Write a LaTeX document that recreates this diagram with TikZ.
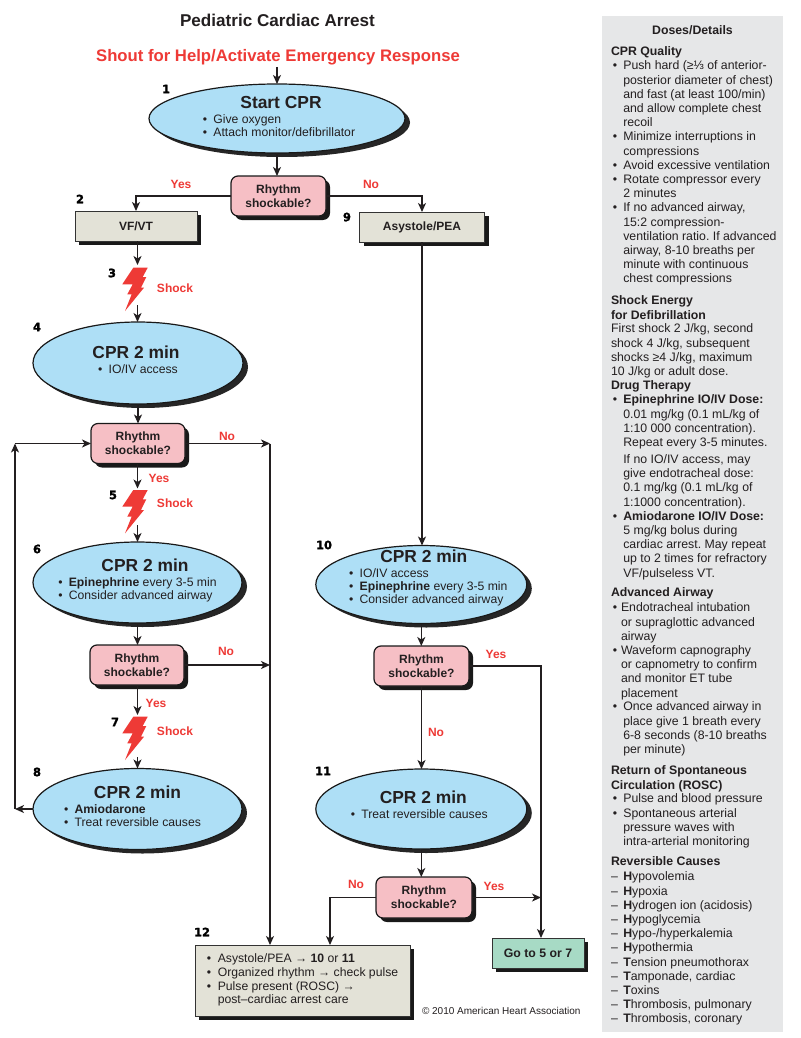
\documentclass[tikz,border=0pt]{standalone}
\usepackage{fontspec}
\setmainfont{Liberation Sans}
\newfontfamily\numfont[FakeBold=1.5]{DejaVu Sans Bold}
\usetikzlibrary{shapes.geometric,shadows,arrows.meta}
\definecolor{inkc}{HTML}{231F20}
\definecolor{redc}{HTML}{EE3A36}
\definecolor{bluec}{HTML}{AEDFF6}
\definecolor{pinkc}{HTML}{F6BFC5}
\definecolor{grayc}{HTML}{E3E2D7}
\definecolor{greenc}{HTML}{A7DAC5}
\definecolor{panelc}{HTML}{E6E7E8}
\newcommand\ovaltext[5]{\makebox[0pt]{\raisebox{#1pt}[0pt][0pt]{\begin{tabular}{@{}c@{}}%
{\fontsize{17.4}{18}\selectfont\bfseries\hspace*{#2pt}#3}\\[1.7pt]%
\hspace*{#4pt}\begin{tabular}[t]{@{}l@{}}#5\end{tabular}\end{tabular}}}}
\newcommand\ob{\makebox[10.5pt][l]{•}}
\newcommand\pb{\makebox[12.3pt][l]{\hspace{1.8pt}•}}
\newcommand\pbn{\makebox[10pt][l]{\hspace{1.8pt}•}}
\newcommand\pc{\hspace*{12.3pt}}
\newcommand\pcn{\hspace*{10pt}}
\newcommand\pd{\makebox[12.3pt][l]{–}}
\newcommand\boltshape[1]{\fill[redc,shift={(#1.center)}] (-1.7,-22.3) -- (12.7,-22.3) -- (7.7,-13) -- (11.3,-13) -- (6,-2.3) -- (9,-2.3) -- (-10,21) -- (-3.3,4.3) -- (-7.7,4.3) -- (-2.3,-5.7) -- (-12.7,-5.7) -- cycle;}
\tikzset{
  x=1pt,y=-1pt,
  every node/.style={text=inkc,inner sep=0pt,outer sep=0pt},
  oval/.style={ellipse,draw=black!90,line width=1.2pt,fill=bluec,
    font=\fontsize{12.2}{13.3}\selectfont,
    drop shadow={shadow xshift=5pt,shadow yshift=-4pt,fill=black!85,opacity=1}},
  decision/.style={rectangle,rounded corners=7pt,draw=black!90,line width=1.2pt,fill=pinkc,
    minimum width=95pt,minimum height=40pt,align=center,
    font=\fontsize{12}{14}\selectfont\bfseries,
    drop shadow={shadow xshift=4pt,shadow yshift=-4pt,fill=black!90,opacity=1}},
  stepbox/.style={rectangle,draw=black!80,line width=1pt,fill=grayc,align=center,
    font=\fontsize{12}{14}\selectfont\bfseries,
    drop shadow={shadow xshift=4pt,shadow yshift=-4pt,fill=black!90,opacity=1}},
  conn/.style={draw=inkc,line width=1.4pt},
  arrow/.style={conn,-{Stealth[length=9pt,width=8pt,inset=2.5pt]}},
  num/.style={font=\fontsize{11.5}{12}\selectfont\numfont,text=black},
  redlab/.style={font=\fontsize{12}{14}\selectfont\bfseries,text=redc},
  panelhd/.style={anchor=north west,align=left,font=\fontsize{12.3}{14.2}\selectfont\bfseries},
  paneltx/.style={anchor=north west,align=left,font=\fontsize{12.3}{14.2}\selectfont},
  boltbox/.style={minimum width=25pt,minimum height=44pt},
}
\begin{document}
\frenchspacing
\begin{tikzpicture}
\useasboundingbox (0,0) rectangle (800,1038);
\fill[white] (0,0) rectangle (800,1038);
% side panel
\node[rectangle,fill=panelc,minimum width=181pt,minimum height=1016pt,anchor=north west] (panel) at (602,16) {};
\node[font=\fontsize{12.3}{14.2}\selectfont\bfseries] (pt0) at (692.5,30) {Doses/Details};
\node[panelhd] (pt1) at (611,46) {\strut CPR Quality};
\node[paneltx] (pt2) at (611,60) {\strut\pb Push hard (≥⅓ of anterior-\\\pc posterior diameter of chest)\\\pc and fast (at least 100/min)\\\pc and allow complete chest\\\pc recoil\\\pb Minimize interruptions in\\\pc compressions\\\pb Avoid excessive ventilation\\\pb Rotate compressor every\\\pc 2 minutes\\\pb If no advanced airway,\\\pc 15:2 compression-\\\pc ventilation ratio. If advanced\\\pc airway, 8-10 breaths per\\\pc minute with continuous\\\pc chest compressions};
\node[panelhd] (pt3) at (611,295) {\strut Shock Energy\\for Defibrillation};
\node[paneltx] (pt4) at (611,323) {\strut First shock 2 J/kg, second\\shock 4 J/kg, subsequent\\shocks ≥4 J/kg, maximum\\10 J/kg or adult dose.};
\node[panelhd] (pt5) at (611,380) {\strut Drug Therapy};
\node[paneltx] (pt6) at (611,394) {\strut\pb\textbf{Epinephrine IO/IV Dose:}\\\pc 0.01 mg/kg (0.1 mL/kg of\\\pc 1:10 000 concentration).\\\pc Repeat every 3-5 minutes.};
\node[paneltx] (pt7) at (611,453.6) {\strut\pc If no IO/IV access, may\\\pc give endotracheal dose:\\\pc 0.1 mg/kg (0.1 mL/kg of\\\pc 1:1000 concentration).\\\pb\textbf{Amiodarone IO/IV Dose:}\\\pc 5 mg/kg bolus during\\\pc cardiac arrest. May repeat\\\pc up to 2 times for refractory\\\pc VF/pulseless VT.};
\node[panelhd] (pt8) at (611,587) {\strut Advanced Airway};
\node[paneltx] (pt9) at (611,602) {\strut\pbn Endotracheal intubation\\\pcn or supraglottic advanced\\\pcn airway\\\pbn Waveform capnography\\\pcn or capnometry to confirm\\\pcn and monitor ET tube\\\pcn placement};
\node[paneltx] (pt10) at (611,701) {\strut\pb Once advanced airway in\\\pc place give 1 breath every\\\pc 6-8 seconds (8-10 breaths\\\pc per minute)};
\node[panelhd] (pt11) at (611,765) {\strut Return of Spontaneous\\Circulation (ROSC)};
\node[paneltx] (pt12) at (611,793) {\strut\pb Pulse and blood pressure\\\pb Spontaneous arterial\\\pc pressure waves with\\\pc intra-arterial monitoring};
\node[panelhd] (pt13) at (611,856) {\strut Reversible Causes};
\node[paneltx] (pt14) at (611,871) {\strut\pd\textbf{H}ypovolemia\\\pd\textbf{H}ypoxia\\\pd\textbf{H}ydrogen ion (acidosis)\\\pd\textbf{H}ypoglycemia\\\pd\textbf{H}ypo-/hyperkalemia\\\pd\textbf{H}ypothermia\\\pd\textbf{T}ension pneumothorax\\\pd\textbf{T}amponade, cardiac\\\pd\textbf{T}oxins\\\pd\textbf{T}hrombosis, pulmonary\\\pd\textbf{T}hrombosis, coronary};
% titles
\node[font=\fontsize{17.1}{20}\selectfont\bfseries] (title) at (277.5,20) {Pediatric Cardiac Arrest};
\node[font=\fontsize{16.7}{20}\selectfont\bfseries,text=redc] (shout) at (278,57) {Shout for Help/Activate Emergency Response};
% left column
\node[oval,minimum width=256pt,minimum height=69pt] (e1) at (277,118.5) {\ovaltext{-2.65}{8}{Start CPR}{4}{\ob Give oxygen\\\ob Attach monitor/defibrillator}};
\node[decision] (d1) at (278.5,196) {Rhythm\\shockable?};
\node[stepbox,minimum width=122pt,minimum height=30pt] (b2) at (136,226) {VF/VT};
\node[stepbox,minimum width=125pt,minimum height=30pt] (b9) at (422,227) {Asystole/PEA};
\node[boltbox] (b3) at (135,290) {};
\node[oval,minimum width=210pt,minimum height=82pt] (e4) at (138,363) {\ovaltext{-1.8}{-4}{CPR 2 min}{0}{\ob IO/IV access}};
\node[decision,minimum width=94pt] (d2) at (138,443.5) {Rhythm\\shockable?};
\node[boltbox] (b5) at (135,512.3) {};
\node[oval,minimum width=209pt,minimum height=81pt] (e6) at (137.5,582.5) {\ovaltext{-1.65}{15}{CPR 2 min}{0}{\ob\textbf{Epinephrine} every 3-5 min\\\ob Consider advanced airway}};
\node[decision,minimum width=94pt] (d3) at (137,665) {Rhythm\\shockable?};
\node[boltbox] (b7) at (135,739) {};
\node[oval,minimum width=209pt,minimum height=81pt] (e8) at (137.5,809) {\ovaltext{-1.85}{0}{CPR 2 min}{-10}{\ob\textbf{Amiodarone}\\\ob Treat reversible causes}};
% right column
\node[oval,minimum width=211pt,minimum height=78pt] (e10) at (421.3,584.5) {\ovaltext{3}{5}{CPR 2 min}{14}{\ob IO/IV access\\\ob\textbf{Epinephrine} every 3-5 min\\\ob Consider advanced airway}};
\node[decision] (d4) at (421.5,666) {Rhythm\\shockable?};
\node[oval,minimum width=211pt,minimum height=80pt] (e11) at (421.3,809) {\ovaltext{-0.2}{4}{CPR 2 min}{-4}{\ob Treat reversible causes}};
\node[decision,minimum width=96pt,minimum height=41pt] (d5) at (424,897.5) {Rhythm\\shockable?};
\node[stepbox,minimum width=92pt,minimum height=30pt,fill=greenc,font=\fontsize{12.3}{14}\selectfont\bfseries] (go) at (538,953) {Go to 5 or 7};
\node[stepbox,minimum width=215pt,minimum height=71pt,font=\fontsize{12.2}{13.7}\selectfont] (b12) at (302.5,980.5) {\raisebox{-2.2pt}{\begin{tabular}{@{}l@{}}\makebox[11pt][l]{•}Asystole/PEA → \textbf{10} or \textbf{11}\\\makebox[11pt][l]{•}Organized rhythm → check pulse\\\makebox[11pt][l]{•}Pulse present (ROSC) →\\\hspace*{11pt}post–cardiac arrest care\end{tabular}}};
\boltshape{b3}
\boltshape{b5}
\boltshape{b7}
% free ends
\coordinate (s0) at (277,67);
\coordinate (o3) at (137.5,305);
\coordinate (o5) at (137.5,525);
\coordinate (o7) at (137.5,757);
\coordinate (lp) at (15,0);
\coordinate (rail) at (270,0);
\coordinate (rail2) at (541,0);
\coordinate (nox) at (330,0);
% connectors
\draw[arrow] (s0) -- (e1.north);
\draw[arrow] (e1.south) -- (e1.south |- d1.north);
\draw[arrow] (d1.west) -| (b2.north);
\draw[arrow] (d1.east) -| (b9.north);
\draw[arrow] (b2.south) ++(1.5,0) -- ++(0,24);
\draw[arrow] (o3) -- (e4.north -| o3);
\draw[arrow] (e4.south) -- (e4.south |- d2.north);
\draw[arrow] (d2.south) ++(-0.5,0) -- ++(0,25);
\draw[arrow] (o5) -- (e6.north);
\draw[arrow] (e6.south) -- (e6.south |- d3.north);
\draw[arrow] (d3.south) ++(0.5,0) -- ++(0,30);
\draw[arrow] (o7) -- (e8.north);
\draw[arrow] (b9.south) -- (e10.north -| b9.south);
\draw[arrow] (e10.south) -- (e10.south |- d4.north);
\draw[arrow] (d4.south) -- (e11.north -| d4.south);
\draw[arrow] (e11.south) -- (d5.north -| e11.south);
\draw[arrow] (e8.west) -- (e8.west -| lp);
\draw[arrow] (e8.west -| lp) -- (d2.west -| lp);
\draw[arrow] (d2.west -| lp) -- (d2.west);
\draw[arrow] (d2.east) -- (d2.east -| rail);
\draw[arrow] (d3.east) -- (d3.east -| rail);
\draw[arrow] (d2.east -| rail) -- (b12.north -| rail);
\draw[arrow] (d4.east) -- (d4.east -| rail2) -- (go.north -| rail2);
\draw[arrow] (d5.east) -- (d5.east -| rail2);
\draw[arrow] (d5.west) -| (b12.north -| nox);
% labels
\node[redlab] (l1) at (181,184) {Yes};
\node[redlab] (l2) at (371,184) {No};
\node[redlab] (l3) at (175,288) {Shock};
\node[redlab] (l4) at (227,436) {No};
\node[redlab] (l5) at (159,478) {Yes};
\node[redlab] (l6) at (175,503) {Shock};
\node[redlab] (l7) at (226,651) {No};
\node[redlab] (l8) at (156,703) {Yes};
\node[redlab] (l9) at (175,731) {Shock};
\node[redlab] (l10) at (496,654) {Yes};
\node[redlab] (l11) at (436,732) {No};
\node[redlab] (l12) at (356,884) {No};
\node[redlab] (l13) at (494,886) {Yes};
% numbers
\node[num] (n1) at (166,89) {1};
\node[num] (n2) at (80,199) {2};
\node[num] (n3) at (112,273) {3};
\node[num] (n4) at (37,327) {4};
\node[num] (n5) at (113,495) {5};
\node[num] (n6) at (37,549) {6};
\node[num] (n7) at (115,722) {7};
\node[num] (n8) at (37,772) {8};
\node[num] (n9) at (347,217) {9};
\node[num] (n10) at (324,545) {10};
\node[num] (n11) at (323,771) {11};
\node[num] (n12) at (202,932) {12};
\node[font=\fontsize{10}{12}\selectfont,anchor=west] (copy) at (422,1011) {© 2010 American Heart Association};
\end{tikzpicture}
\end{document}
